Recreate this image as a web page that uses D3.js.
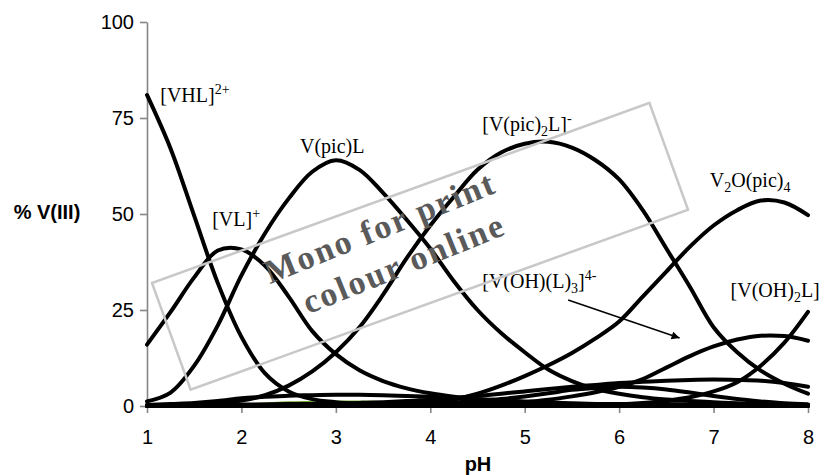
<!DOCTYPE html>
<html>
<head>
<meta charset="utf-8">
<script src="https://cdn.jsdelivr.net/npm/d3@7"></script>
<style>
  body { margin: 0; background: #fff; }
  #chart { width: 826px; height: 475px; }
  .axis text { font-family: "Liberation Sans", Arial, sans-serif; font-size: 20px; fill: #000; }
  .axis path, .axis line { stroke: #868686; stroke-width: 1.6; }
  .axisLabel { font-family: "Liberation Sans", Arial, sans-serif; font-size: 20px; font-weight: bold; }
  .species { font-family: "Liberation Serif", "Times New Roman", serif; font-size: 20px; }
</style>
</head>
<body>
<div id="chart"></div>
<script>
// pH grid shared by all species
const pH = [1,1.25,1.5,1.75,2,2.25,2.5,2.75,3,3.25,3.5,3.75,4,4.25,4.5,4.75,5,5.25,5.5,5.75,6,6.25,6.5,6.75,7,7.25,7.5,7.75,8];

// % V(III) per species
const vhl    = [81,67,49.5,32,18,8.5,3.8,1.8,1,0.6,0.4,0.3,0.2,0.1,0.1,0,0,0,0,0,0,0,0,0,0,0,0,0,0];
const vl     = [16,24.5,33.5,40.5,40.8,36.5,28.5,19.5,13.5,9.3,6.5,4.6,3.3,2.4,1.7,1.2,0.9,0.6,0.4,0.3,0.2,0.1,0.1,0,0,0,0,0,0];
const vpicL  = [1.2,3.5,10.5,21,34,45,54,61,64,61.5,55.5,48.5,41,32.5,25,19,14,9.5,6.5,4.5,3.2,2.3,1.7,1.3,1.0,0.7,0.5,0.4,0.3];
const vpic2L = [0,0.1,0.2,0.6,1.4,2.8,5.3,9,14,20.5,29,38.5,47,54.5,61.5,66,68.3,68.8,67.3,64,59,51,41,31,20.5,14,9.2,5.8,3.2];
const v2o    = [0,0,0,0,0,0,0,0.1,0.1,0.2,0.3,0.5,0.8,1.7,3.2,5.3,7.8,10.6,13.8,17.6,22,28.5,35,41.5,47,51,53.5,53,49.7];
const vohl3  = [0,0,0,0,0,0,0,0,0,0,0.1,0.1,0.2,0.2,0.3,0.6,1,1.6,2.5,3.6,5,7,10,13,15.5,17.3,18.3,18.2,17];
const voh2l  = [0,0,0,0,0,0,0,0,0,0,0,0,0,0,0,0,0,0,0.1,0.2,0.4,0.8,1.4,2.3,3.8,6.2,10.5,16.5,24.5];
const minorA = [0.2,0.5,0.8,1.3,2.0,2.4,2.7,2.8,2.9,2.9,2.8,2.6,2.4,2.1,1.8,1.5,1.2,0.9,0.7,0.5,0.4,0.3,0.2,0.1,0.1,0.1,0,0,0];
const minorB = [0,0,0,0.1,0.2,0.3,0.4,0.5,0.6,0.8,1.0,1.3,1.6,2.1,2.6,3.2,3.8,4.4,5,5.5,6,6.3,6.6,6.8,6.9,6.8,6.6,6,5];
const minorC = [0,0,0,0,0,0,0,0,0.1,0.2,0.3,0.4,0.6,0.9,1.3,1.8,2.5,3.3,4.2,4.7,5,4.8,4.3,3.5,2.6,1.8,1.2,0.7,0.4];
const minorD = [0,0,0,0,0,0,0,0,0,0,0,0,0,0,0,0,0,0,0,0,0,0,0,0,0,0,0,0,0];
const minorE = [0.3,0.3,0.3,0.4,0.4,0.4,0.5,0.5,0.5,0.5,0.5,0.5,0.5,0.5,0.5,0.5,0.5,0.5,0.5,0.5,0.5,0.5,0.5,0.4,0.4,0.4,0.3,0.3,0.3];

// the one green trace
const pHGreen = [2,2.25,2.5,2.75,3,3.25,3.5,3.75,4];
const green   = [0.3,0.6,0.9,1.0,1.1,1.1,1.0,0.9,0.6];

const xTicks = [1,2,3,4,5,6,7,8];
const yTicks = [0,25,50,75,100];

const blackSeries = [minorD, minorE, minorA, minorB, minorC, vhl, vl, vpicL, vpic2L, v2o, vohl3, voh2l];

//define dim
const width = 826;
const height = 475;
const svg = d3.select("#chart")
    .append("svg")
    .attr("width", width)
    .attr("height", height);

const margin = { top: 22, left: 147, right: 18, bottom: 69 };

//scales
const xScale = d3.scaleLinear()
    .domain([1, 8])
    .range([margin.left, width - margin.right]);
const yScale = d3.scaleLinear()
    .domain([0, 100])
    .range([height - margin.bottom, margin.top]);

//axes
svg.append("g")
    .attr("class", "axis")
    .attr("transform", `translate(0,${height - margin.bottom})`)
    .call(d3.axisBottom(xScale).tickValues(xTicks).tickSize(7).tickSizeOuter(0).tickPadding(17).tickFormat(d3.format("d")));
svg.append("g")
    .attr("class", "axis")
    .attr("transform", `translate(${margin.left},0)`)
    .call(d3.axisLeft(yScale).tickValues(yTicks).tickSize(7).tickSizeOuter(0).tickPadding(6));

//lines
const line = d3.line()
    .x(d => xScale(d[0]))
    .y(d => yScale(Math.max(d[1], 0)))
    .curve(d3.curveCatmullRom.alpha(0.5));

svg.append("path")
    .datum(pHGreen.map((p, i) => [p, green[i]]))
    .attr("d", line)
    .attr("fill", "none")
    .attr("stroke", "#6ea52a")
    .attr("stroke-width", 2.5);

svg.selectAll(".curve")
    .data(blackSeries)
    .enter()
    .append("path")
        .attr("class", "curve")
        .attr("d", s => line(pH.map((p, i) => [p, s[i]])))
        .attr("fill", "none")
        .attr("stroke", "#000")
        .attr("stroke-width", 4)
        .attr("stroke-linecap", "round");

//species labels
function label(x, y, parts) {
    const t = svg.append("text")
        .attr("class", "species")
        .attr("x", xScale(x))
        .attr("y", yScale(y));
    let shift = 0;
    parts.forEach(p => {
        const target = p[1] === "sup" ? -8 : p[1] === "sub" ? 5 : 0;
        t.append("tspan")
            .attr("dy", target - shift)
            .style("font-size", p[1] ? "14px" : null)
            .text(p[0]);
        shift = target;
    });
}
label(1.14, 79.2, [["[VHL]"], ["2+", "sup"]]);
label(2.62, 65.9, [["V(pic)L"]]);
label(1.69, 46.9, [["[VL]"], ["+", "sup"]]);
label(4.55, 71.6, [["[V(pic)"], ["2", "sub"], ["L]"], ["-", "sup"]]);
label(6.96, 57, [["V"], ["2", "sub"], ["O(pic)"], ["4", "sub"]]);
label(4.55, 30.7, [["[V(OH)(L)"], ["3", "sub"], ["]"], ["4-", "sup"]]);
label(7.18, 28.4, [["[V(OH)"], ["2", "sub"], ["L]"]]);

//arrow
svg.append("defs").append("marker")
    .attr("id", "head")
    .attr("viewBox", "0 0 10 10")
    .attr("refX", 10).attr("refY", 5)
    .attr("markerWidth", 11).attr("markerHeight", 8)
    .attr("markerUnits", "userSpaceOnUse")
    .attr("orient", "auto")
    .append("path")
        .attr("d", "M0,0L10,5L0,10z")
        .attr("fill", "#000");
svg.append("line")
    .attr("x1", xScale(5.46)).attr("y1", yScale(27.6))
    .attr("x2", xScale(6.64)).attr("y2", yScale(17.7))
    .attr("stroke", "#000")
    .attr("stroke-width", 1.5)
    .attr("marker-end", "url(#head)");

//axis labels
svg.append("text")
    .attr("class", "axisLabel")
    .attr("x", 47)
    .attr("y", 219)
    .attr("text-anchor", "middle")
    .text("% V(III)");
svg.append("text")
    .attr("class", "axisLabel")
    .attr("x", 478)
    .attr("y", 471)
    .attr("text-anchor", "middle")
    .text("pH");

//watermark
const wm = svg.append("g").attr("transform", "translate(152,283) rotate(-19.9)");
wm.append("rect")
    .attr("width", 529)
    .attr("height", 113.5)
    .attr("fill", "none")
    .attr("stroke", "#c8c8c8")
    .attr("stroke-width", 2.5);
[["Mono for print", 384, 238], ["colour online", 408, 274]].forEach(w => {
    svg.append("text")
        .attr("transform", `translate(${w[1]},${w[2]}) rotate(-22)`)
        .attr("text-anchor", "middle")
        .style("font-family", "'Liberation Serif', 'Times New Roman', serif")
        .style("font-weight", "bold")
        .style("font-size", "34px")
        .style("letter-spacing", "2px")
        .attr("fill", "#5a5a5a")
        .text(w[0]);
});
</script>
</body>
</html>
